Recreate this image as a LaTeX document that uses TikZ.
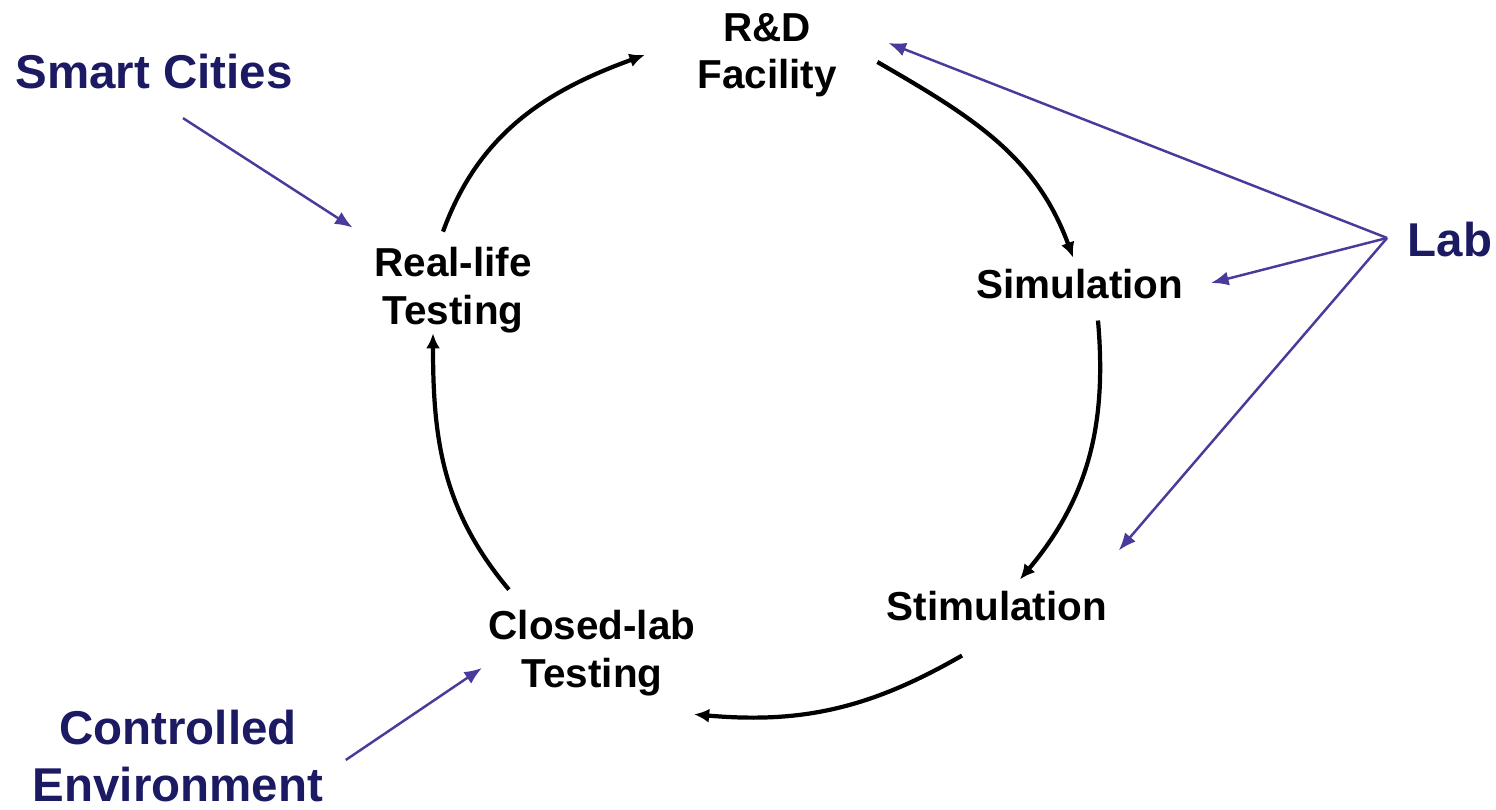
\documentclass[tikz,border=0pt]{standalone}
\usepackage{fontspec}
\setmainfont{Liberation Sans}
\usetikzlibrary{arrows.meta}
\definecolor{navy}{RGB}{27,26,99}
\definecolor{violet}{RGB}{75,57,155}

\begin{document}
\begin{tikzpicture}[x=0.01cm,y=0.01cm,
  stage/.style={font=\bfseries\fontsize{11.5}{13.5}\selectfont,align=center,inner sep=0pt},
  tag/.style={font=\bfseries\fontsize{13.5}{16.2}\selectfont,text=navy,align=center,inner sep=0pt},
  cycle/.style={line width=1.2pt,-{Latex[length=4.3pt,width=4pt]}},
  pointer/.style={violet,line width=0.7pt,-{Latex[length=5pt,width=4pt]}}]
\useasboundingbox (0,0) rectangle (1496,810);

\node[stage] (rd) at (767,755) {R\&D\\Facility};
\node[stage] (sim) at (1080,526) {Simulation};
\node[stage] (stim) at (997,204) {Stimulation};
\node[stage] (closed) at (592,157) {Closed-lab\\Testing};
\node[stage] (real) at (453,520) {Real-life\\Testing};

\node[tag] (smart) at (154,738) {Smart Cities};
\node[tag] (lab) at (1450,570) {Lab};
\node[tag] (ctrl) at (178,54) {Controlled\\Environment};

% the cycle
\draw[cycle] ([shift={(-10,15)}]real.north) to[out=70,in=200] ([shift={(-52,0)}]rd.west);
\draw[cycle] ([shift={(40,-7)}]rd.east) to[out=-30,in=110] ([shift={(-7,11)}]sim.north);
\draw[cycle] ([shift={(18,-21)}]sim.south) to[out=-85,in=50] ([shift={(23,11)}]stim.north);
\draw[cycle] ([shift={(-35,-34)}]stim.south) to[out=-150,in=-5] ([shift={(-2,-18)}]closed.south east);
\draw[cycle] ([shift={(21,20)}]closed.north west) to[out=130,in=-90] ([shift={(-20,0)}]real.south);

% pointers
\coordinate (labfoot) at ([shift={(-20,2)}]lab.west);
\draw[pointer] (labfoot) -- ([shift={(51,12)}]rd.east);
\draw[pointer] (labfoot) -- ([shift={(27,1)}]sim.east);
\draw[pointer] (labfoot) -- ([shift={(11,40)}]stim.north east);
\draw[pointer] ([shift={(29,-28)}]smart.south) -- ([shift={(-21,19)}]real.north west);
\draw[pointer] ([shift={(22,-4)}]ctrl.east) -- ([shift={(-6,-15)}]closed.west);

\end{tikzpicture}
\end{document}
